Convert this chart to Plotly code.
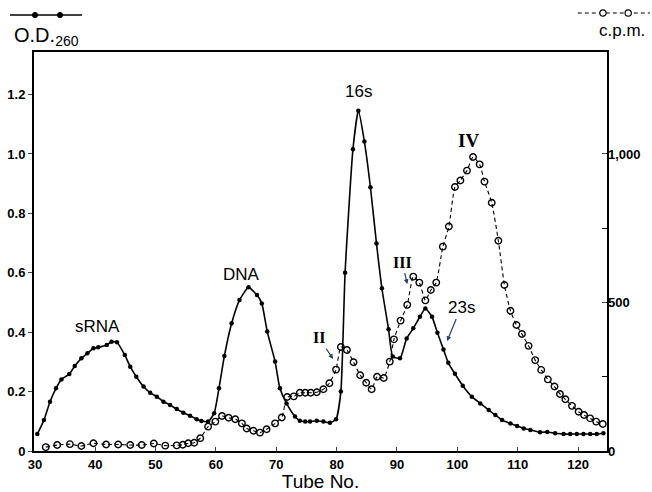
import plotly.graph_objects as go

# O.D.260 (filled dots, solid line)
od_tube = [30.4, 31.5, 32.5, 33.5, 34.4, 35.7, 36.6, 37.7, 38.7, 39.7, 40.5, 41.9, 42.7, 43.6,
           44.9, 45.8, 46.8, 48.0, 49.1, 50.2, 51.3, 52.4, 53.5, 54.6, 55.7, 56.8, 57.6, 58.7,
           59.7, 60.5, 61.4, 62.6, 63.9, 65.4, 66.8, 67.6, 68.5, 69.8, 70.6, 71.7, 73.1, 73.9,
           74.8, 75.6, 76.7, 77.8, 78.9, 79.9, 80.7, 81.4, 82.7, 83.6, 84.6, 85.6, 86.6, 87.5,
           88.6, 89.3, 90.5, 91.6, 92.7, 93.8, 94.7, 95.8, 96.7, 97.7, 98.5, 99.6, 100.9, 102.4,
           103.8, 105.2, 106.3, 107.4, 108.8, 109.9, 111.0, 112.1, 113.7, 114.9, 116.2, 117.6,
           118.7, 119.8, 120.9, 122.0, 123.1, 124.2]
od_val = [0.057, 0.104, 0.166, 0.211, 0.241, 0.259, 0.286, 0.312, 0.329, 0.346, 0.349, 0.357, 0.368, 0.366,
          0.323, 0.284, 0.250, 0.217, 0.196, 0.183, 0.166, 0.155, 0.141, 0.129, 0.119, 0.107, 0.101, 0.099,
          0.127, 0.211, 0.320, 0.430, 0.508, 0.551, 0.525, 0.497, 0.402, 0.301, 0.211, 0.160, 0.116, 0.102,
          0.099, 0.099, 0.102, 0.099, 0.095, 0.107, 0.200, 0.600, 1.016, 1.146, 1.042, 0.888, 0.699, 0.548,
          0.410, 0.318, 0.312, 0.379, 0.413, 0.452, 0.480, 0.452, 0.398, 0.342, 0.297, 0.260, 0.220, 0.183,
          0.160, 0.138, 0.121, 0.104, 0.093, 0.084, 0.076, 0.071, 0.063, 0.064, 0.060, 0.057,
          0.057, 0.057, 0.057, 0.057, 0.057, 0.060]

# c.p.m. (open circles, dashed line)
cpm_tube = [31.8, 33.7, 35.8, 37.7, 39.7, 41.8, 43.8, 45.8, 47.7, 49.7, 51.6, 53.5, 54.5, 55.4, 56.4,
            57.4, 58.7, 59.9, 61.0, 62.1, 63.2, 64.3, 65.1, 66.2, 67.3, 68.4, 69.8, 70.9, 71.8, 72.9,
            73.9, 74.8, 75.7, 76.7, 77.8, 78.8, 79.9, 80.7, 81.7, 82.8, 83.9, 84.9, 85.8, 86.7, 87.8,
            88.8, 89.5, 90.6, 91.7, 92.7, 93.7, 94.7, 95.6, 96.5, 97.6, 98.6, 99.6, 100.5, 101.6,
            102.6, 103.7, 104.5, 105.7, 106.8, 107.8, 108.8, 109.8, 110.7, 111.8, 112.9, 113.9,
            115.0, 116.1, 117.0, 117.9, 119.0, 120.1, 121.0, 122.0, 123.0, 124.1]
cpm_val = [13, 20, 23, 17, 26, 22, 22, 20, 20, 25, 18, 19, 21, 26, 28,
           43, 82, 99, 118, 112, 107, 93, 76, 68, 62, 73, 93, 113, 182, 184,
           196, 196, 196, 198, 208, 228, 274, 350, 340, 299, 255, 230, 208, 250, 246,
           301, 376, 439, 492, 587, 567, 507, 542, 567, 688, 756, 889, 911, 944,
           990, 965, 907, 836, 708, 559, 472, 424, 394, 354, 306, 273,
           241, 217, 192, 174, 152, 132, 121, 110, 99, 91]

x_ticks = [30, 40, 50, 60, 70, 80, 90, 100, 110, 120]
y_ticks = [0, 0.2, 0.4, 0.6, 0.8, 1.0, 1.2]
y_ticktext = ["0", "0.2", "0.4", "0.6", "0.8", "1.0", "1.2"]
y2_ticks = [0, 500, 1000]
y2_ticktext = ["0", "500", "1,000"]
y2_minor = [250, 750]

fig = go.Figure()
fig.add_trace(go.Scatter(
    x=cpm_tube, y=cpm_val, yaxis="y2", mode="lines+markers",
    line=dict(color="black", width=1.1, dash="4px,3px", shape="spline", smoothing=0.5),
    marker=dict(symbol="circle-open", size=6.5, color="black", line=dict(width=1.4)),
    showlegend=False, cliponaxis=False))
fig.add_trace(go.Scatter(
    x=od_tube, y=od_val, mode="lines+markers",
    line=dict(color="black", width=1.6, shape="spline", smoothing=0.5),
    marker=dict(symbol="circle", size=4.5, color="black"),
    showlegend=False))

tick_font = dict(family="Liberation Sans", size=13, color="black", weight="bold")
label_font = dict(family="Liberation Sans", size=17, color="black")
roman_font = dict(family="Liberation Serif", size=16, color="black", weight="bold")
arrow = dict(showarrow=True, arrowhead=2, arrowsize=0.8, arrowwidth=1.2, standoff=0, startstandoff=1)

annotations = [
    dict(x=40.3, y=0.418, text="sRNA", showarrow=False, font=label_font),
    dict(x=64.2, y=0.593, text="DNA", showarrow=False, font=label_font),
    dict(x=83.6, y=1.212, text="16s", showarrow=False, font=label_font),
    dict(x=101.8, y=1.047, text="IV", showarrow=False,
         font=dict(family="Liberation Serif", size=19, color="black", weight="bold")),
    dict(x=79.4, y=0.31, text="II", font=roman_font, ax=-14, ay=-21, **arrow),
    dict(x=91.7, y=0.562, text="III", font=roman_font, ax=-5, ay=-22, **arrow),
    dict(x=98.3, y=0.37, text="23s", font=label_font, ax=14, ay=-34, **arrow),
    dict(xref="paper", yref="paper", x=-0.0384, y=1.040, xanchor="left", yanchor="middle",
         text="O.D.<sub>260</sub>", showarrow=False,
         font=dict(family="Liberation Sans", size=20, color="black")),
    dict(xref="paper", yref="paper", x=1.026, y=1.055, xanchor="center", yanchor="middle",
         text="c.p.m.", showarrow=False,
         font=dict(family="Liberation Sans", size=17, color="black")),
]

shapes = [
    dict(type="line", xref="paper", yref="paper", x0=-0.0419, x1=0.0838, y0=1.0927, y1=1.0927,
         line=dict(color="black", width=1.6)),
    dict(type="line", xref="paper", yref="paper", x0=0.949, x1=1.075, y0=1.0977, y1=1.0977,
         line=dict(color="black", width=1.2, dash="4px,3px")),
]
for cx in [0.00175, 0.0454]:
    shapes.append(dict(type="circle", xref="paper", yref="paper",
                       x0=cx - 0.0045, x1=cx + 0.0045, y0=1.0927 - 0.0065, y1=1.0927 + 0.0065,
                       fillcolor="black", line=dict(color="black", width=1)))
for cx in [0.993, 1.037]:
    shapes.append(dict(type="circle", xref="paper", yref="paper",
                       x0=cx - 0.0055, x1=cx + 0.0055, y0=1.0977 - 0.008, y1=1.0977 + 0.008,
                       fillcolor="white", line=dict(color="black", width=1.2)))

fig.update_layout(
    width=652, height=492,
    margin=dict(l=34, r=45, t=52, b=41, autoexpand=False),
    paper_bgcolor="white", plot_bgcolor="white",
    xaxis=dict(range=[29.85, 124.8], tickvals=x_ticks, ticks="inside", ticklen=4,
               showline=True, linecolor="black", linewidth=2, mirror=True, automargin=False,
               showgrid=False, zeroline=False, tickfont=tick_font,
               title=dict(text="Tube No.", font=dict(family="Liberation Sans", size=19, color="black"),
                          standoff=0)),
    yaxis=dict(range=[0, 1.3434], tickvals=y_ticks, ticktext=y_ticktext, ticks="outside", ticklen=4,
               showline=True, linecolor="black", linewidth=2, mirror=True, automargin=False,
               showgrid=False, zeroline=False, tickfont=tick_font),
    yaxis2=dict(range=[0, 1343.4], overlaying="y", side="right", tickvals=y2_ticks,
                ticktext=y2_ticktext, ticks="inside", ticklen=5, showline=False, automargin=False,
                minor=dict(tickvals=y2_minor, ticks="inside", ticklen=5, tickcolor="black", showgrid=False),
                showgrid=False, zeroline=False, tickfont=tick_font),
    annotations=annotations, shapes=shapes,
)

fig.write_html("out.html", config={"displayModeBar": False},
               post_script="document.body.style.margin='0px';")
